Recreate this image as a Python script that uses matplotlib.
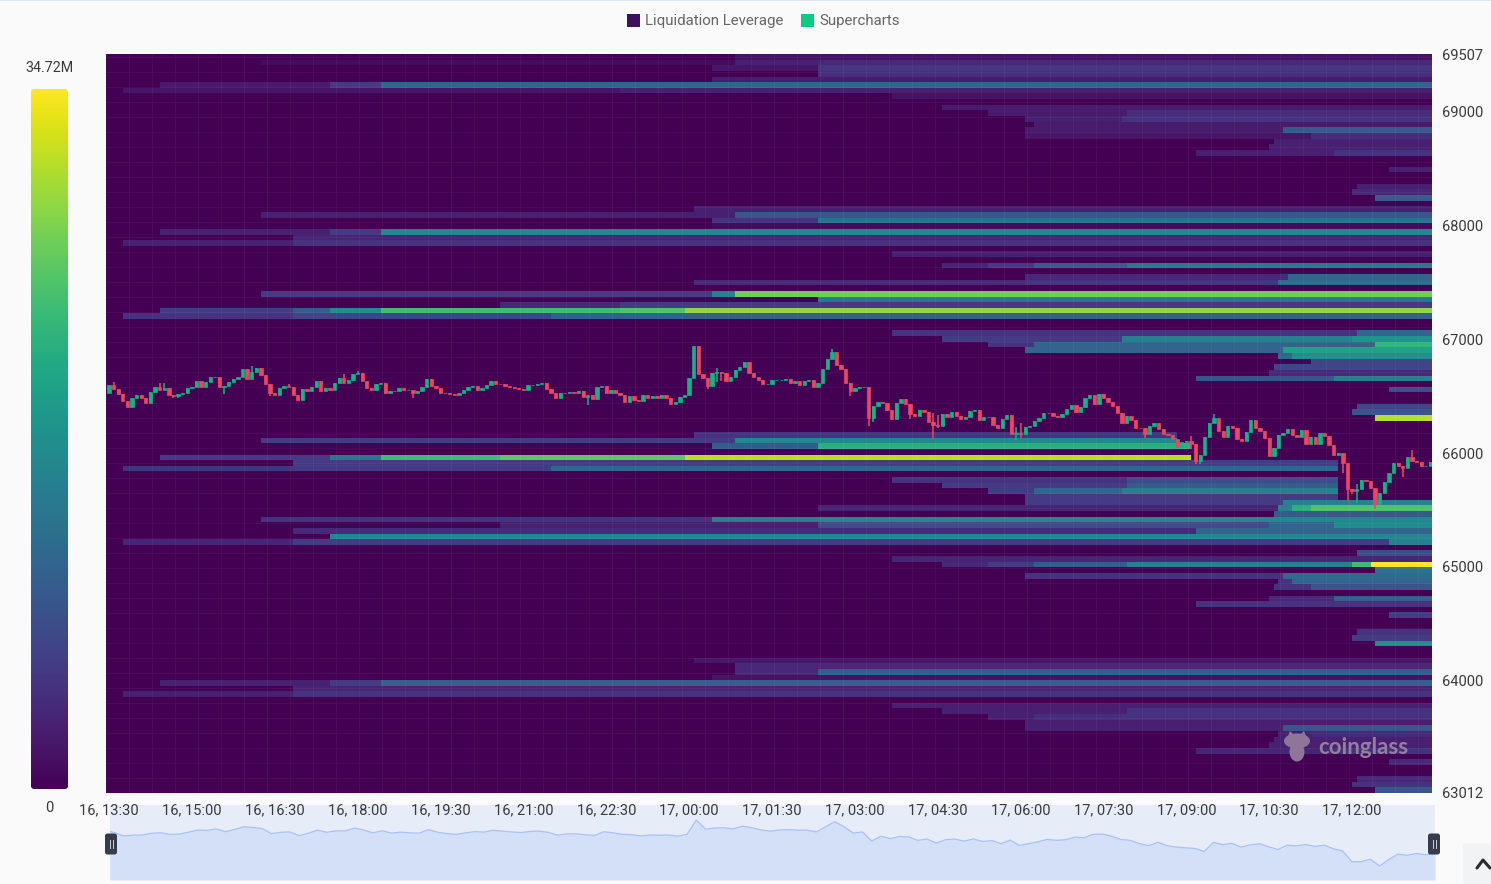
#!/usr/bin/env python3
import numpy as np
import matplotlib
matplotlib.use("Agg")
import matplotlib.pyplot as plt
from matplotlib.patches import FancyBboxPatch, Rectangle, Ellipse, Polygon

plt.rcParams["font.family"] = ["Roboto", "DejaVu Sans"]

MAX_LEVERAGE = 34.72
ROW_STEP = 49.58
PRICE_LOW, PRICE_HIGH = 63012, 69507
N_CANDLES = 288

# 5 minute closes, 16th 13:30 onwards
closes_a = [
    66595, 66560, 66516, 66457, 66407, 66481, 66507, 66487, 66443, 66539,
    66580, 66557, 66575, 66507, 66501, 66516, 66530, 66572, 66580, 66636,
    66583, 66627, 66668, 66671, 66583, 66589, 66621, 66654, 66671, 66736,
    66648, 66715, 66745, 66683, 66604, 66530, 66510, 66569, 66589, 66580,
    66510, 66466, 66560, 66545, 66580, 66633, 66545, 66569, 66551, 66613,
    66657, 66613, 66642, 66698, 66701, 66633, 66575, 66554, 66610, 66616,
    66530, 66545, 66545, 66575, 66551, 66551, 66530, 66545, 66580, 66651,
    66589, 66569, 66525, 66530, 66516, 66507, 66530, 66554, 66583, 66589,
    66557, 66575, 66598, 66633, 66610, 66604, 66592, 66580, 66569, 66560,
    66557, 66595, 66598, 66604, 66618, 66566, 66530,
]
closes_b = [
    66481, 66525, 66525, 66539, 66525, 66545, 66492, 66507, 66478, 66580,
    66586, 66525, 66551, 66528, 66507, 66448, 66498, 66463, 66457, 66510,
    66486, 66504, 66481, 66510, 66486, 66434,
]
closes_c = [
    66451, 66492, 66510, 66663, 66941, 66692, 66663, 66589, 66701, 66715,
    66706, 66633, 66671, 66727, 66756, 66803, 66706, 66668, 66642, 66604,
    66604, 66639, 66639, 66645, 66651, 66618, 66633, 66595, 66633, 66645,
    66583, 66618, 66736, 66824, 66891, 66771, 66736, 66613, 66545, 66569,
    66580, 66580, 66305, 66413, 66451, 66437, 66375, 66296, 66443, 66472,
    66428, 66340, 66325, 66378, 66363, 66275, 66243, 66237, 66346, 66317,
]
closes_d = [
    66363, 66325, 66302, 66319, 66369, 66375, 66290, 66316, 66319, 66246,
    66223, 66296, 66334, 66164, 66173, 66164, 66228, 66237, 66281, 66305,
    66354, 66354, 66325, 66316, 66346, 66384, 66422, 66363, 66404, 66481,
    66510, 66434, 66516, 66481, 66451, 66413, 66349, 66267, 66325, 66287,
    66223, 66217, 66164, 66237, 66267, 66208, 66164, 66158, 66120, 66052,
    66099, 66105, 66082, 65929, 65982, 66140, 66267, 66310, 66193, 66143,
    66237, 66223, 66120, 66105, 66187, 66287,
]
closes_e = [
    66223, 66193, 66129, 65973, 66047, 66155, 66179, 66208, 66158, 66141,
    66199, 66076, 66141, 66082, 66179, 66149, 66070, 65982, 66003, 65915,
    65680, 65666, 65680, 65762, 65754, 65695, 65548, 65645, 65748, 65821,
    65909, 65886, 65871, 65968, 65929, 65924, 65886, 65886, 65924,
]
first_open = 66525

# wicks that stick out past the body, by candle index
wick_highs = {
    1: 66624, 11: 66618, 12: 66618, 31: 66765, 39: 66610, 51: 66692, 54: 66721,
    132: 66750, 157: 66912, 179: 66355, 180: 66331, 197: 66228, 198: 66267,
    235: 66149, 240: 66340, 271: 65725, 283: 66023,
}
wick_lows = {
    14: 66481, 15: 66481, 25: 66522, 35: 66501, 60: 66516, 66: 66487, 104: 66422,
    130: 66560, 132: 66627, 133: 66633, 161: 66501, 165: 66237, 166: 66275,
    174: 66296, 179: 66120, 180: 66217, 197: 66111, 198: 66135, 225: 66129,
    235: 66038, 236: 65900, 237: 65900, 268: 65827, 269: 65578, 270: 65636,
    271: 65563, 275: 65504, 281: 65792,
}

# liquidation levels: (price, [(first candle, leverage in M), ...])
levels_top = [
    (69476, [(136, 1.5)]),
    (69415, [(33, 1), (136, 3), (154, 4)]),
    (69371, [(131, 2), (154, 5.5)]),
    (69327, [(154, 4.5)]),
    (69279, [(131, 2.5)]),
    (69226, [(11, 2.5), (48, 6), (59, 11)]),
    (69174, [(3, 2), (111, 3)]),
    (69125, [(170, 1.5)]),
    (69028, [(181, 2.5)]),
    (68980, [(191, 2.5), (221, 4.5)]),
    (68927, [(199, 3), (220, 5)]),
    (68879, [(201, 2.5)]),
    (68835, [(199, 2.5), (255, 9.5)]),
    (68786, [(199, 2), (261, 4.5)]),
    (68734, [(253, 3)]),
    (68686, [(252, 3)]),
    (68633, [(236, 3), (266, 5)]),
    (68488, [(278, 3)]),
    (68334, [(271, 3)]),
    (68290, [(270, 4)]),
    (68242, [(275, 10)]),
]
levels_upper = [
    (68136, [(127, 3)]),
    (68087, [(33, 3), (136, 9)]),
    (68039, [(131, 5), (154, 13)]),
    (67990, [(131, 1)]),
    (67938, [(11, 3), (48, 6), (59, 16)]),
    (67890, [(40, 3.5)]),
    (67841, [(3, 3), (40, 5)]),
    (67744, [(170, 3)]),
    (67648, [(181, 3.5), (191, 6), (201, 10), (221, 14)]),
    (67543, [(199, 4), (256, 11)]),
    (67494, [(127, 4), (199, 5), (254, 12)]),
    (67397, [(33, 6), (131, 15), (136, 27)]),
    (67349, [(154, 14)]),
    (67296, [(85, 4), (111, 6)]),
    (67248, [(11, 6), (40, 10), (48, 17), (59, 24), (111, 25), (125, 29)]),
    (67200, [(3, 5), (40, 7), (96, 10.5)]),
    (67050, [(170, 5), (271, 11)]),
    (67002, [(181, 6), (220, 15), (270, 18)]),
    (66954, [(191, 5), (201, 11), (275, 23)]),
    (66901, [(199, 11), (255, 20)]),
    (66848, [(254, 11), (257, 17)]),
    (66800, [(261, 7)]),
    (66747, [(253, 7)]),
    (66699, [(252, 4)]),
    (66655, [(236, 9), (266, 15)]),
    (66554, [(278, 8)]),
    (66404, [(271, 7)]),
    (66355, [(270, 9)]),
    (66307, [(275, 31)]),
]
levels_mid = [
    (66154, [(127, 5), (232, 0)]),
    (66110, [(33, 6), (136, 16), (232, 0)]),
    (66057, [(131, 10), (154, 22), (235, 0)]),
    (65960, [(11, 6), (48, 14), (59, 24), (85, 26), (125, 31), (235, 0)]),
    (65912, [(40, 6), (267, 0)]),
    (65864, [(3, 5), (40, 6), (96, 11), (267, 0)]),
    (65763, [(170, 5), (221, 8), (267, 0)]),
    (65715, [(181, 6), (221, 10), (267, 0)]),
    (65666, [(191, 6), (201, 11), (220, 15), (267, 0)]),
    (65613, [(199, 6), (267, 0)]),
    (65565, [(199, 6), (255, 15)]),
    (65517, [(154, 3.5), (254, 15), (257, 22), (261, 25)]),
    (65464, [(253, 10)]),
    (65416, [(33, 5), (131, 15), (154, 16)]),
    (65363, [(85, 3), (154, 8), (252, 11), (266, 17)]),
    (65315, [(40, 4), (236, 11)]),
    (65266, [(48, 16)]),
    (65218, [(3, 3.5), (40, 6), (278, 15)]),
    (65121, [(271, 8)]),
    (65069, [(170, 3.5)]),
    (65020, [(181, 4), (191, 6), (201, 10), (221, 15), (270, 24), (274, MAX_LEVERAGE)]),
    (64972, [(275, 13)]),
    (64919, [(199, 5), (255, 12)]),
    (64870, [(254, 5), (257, 11)]),
    (64822, [(253, 5), (261, 9)]),
]
levels_low = [
    (64717, [(252, 4), (266, 10)]),
    (64669, [(236, 5)]),
    (64570, [(278, 6)]),
    (64422, [(271, 5)]),
    (64374, [(270, 6)]),
    (64326, [(275, 17)]),
    (64177, [(127, 2)]),
    (64128, [(136, 4)]),
    (64080, [(136, 4), (154, 10)]),
    (64032, [(131, 1.5)]),
    (63979, [(11, 3), (48, 6), (59, 10.5)]),
    (63930, [(40, 3.5)]),
    (63886, [(3, 3), (40, 5)]),
    (63785, [(170, 3)]),
    (63741, [(181, 3), (221, 5)]),
    (63689, [(191, 3), (201, 4.5), (220, 5)]),
    (63636, [(199, 3)]),
    (63588, [(199, 3), (255, 9)]),
    (63535, [(254, 3), (261, 4)]),
    (63491, [(253, 3)]),
    (63447, [(252, 3)]),
    (63394, [(236, 3.5), (266, 5)]),
    (63289, [(278, 4)]),
    (63148, [(271, 4)]),
    (63095, [(270, 5)]),
    (63038, [(275, 9)]),
]

x_labels = ["16, 13:30", "16, 15:00", "16, 16:30", "16, 18:00", "16, 19:30",
            "16, 21:00", "16, 22:30", "17, 00:00", "17, 01:30", "17, 03:00",
            "17, 04:30", "17, 06:00", "17, 07:30", "17, 09:00", "17, 10:30",
            "17, 12:00"]
y_ticks = [69507, 69000, 68000, 67000, 66000, 65000, 64000, 63012]
GREEN = "#0fb583"
RED = "#ee4560"
TEXT = "#3a3a3a"
X_LEFT, X_RIGHT = -0.65, 287.35


def px_rect(left, top, right, bottom):
    # figure rect from pixel edges, y counted from the top
    return [left / 1491, 1 - bottom / 884, (right - left) / 1491, (bottom - top) / 884]


def build_grid():
    n_rows = int(round((PRICE_HIGH - PRICE_LOW) / ROW_STEP))
    grid = np.zeros((n_rows, N_CANDLES))
    for price, steps in levels_top + levels_upper + levels_mid + levels_low:
        row = min(int((price - PRICE_LOW) / ROW_STEP), n_rows - 1)
        for i, (start, value) in enumerate(steps):
            end = steps[i + 1][0] if i + 1 < len(steps) else N_CANDLES
            grid[row, start:end] = value
    return grid


def draw_candles(ax, closes):
    opens = np.concatenate([[first_open], closes[:-1]])
    x = np.arange(len(closes))
    up = closes >= opens
    colors = np.where(up, GREEN, RED)
    highs = np.array([max(opens[i], closes[i], wick_highs.get(i, 0)) for i in x])
    lows = np.array([min(opens[i], closes[i], wick_lows.get(i, 1e9)) for i in x])
    ax.vlines(x, lows, highs, colors=colors, linewidth=1.1, zorder=3)
    ax.bar(x, closes - opens, bottom=opens, width=0.72, color=colors,
           edgecolor=colors, linewidth=0.5, zorder=4)


def draw_logo(ov):
    logo = dict(color="#8f7598", linewidth=0)
    ov.add_patch(Ellipse((1297, 741), 26, 15, **logo))
    ov.add_patch(Ellipse((1297, 752), 15, 19, **logo))
    ov.add_patch(Polygon([[1288, 736], [1290, 731], [1294, 735]], **logo))
    ov.add_patch(Polygon([[1300, 735], [1304, 731], [1306, 736]], **logo))
    ov.text(1318, 747, "coinglass", fontsize=16, fontweight="bold", family="Lato",
            color="#957f9f", va="center", ha="left")


def main():
    closes = np.array(closes_a + closes_b + closes_c + closes_d + closes_e, dtype=float)
    grid = build_grid()

    fig = plt.figure(figsize=(14.91, 8.84), dpi=100, facecolor="#fafafa")

    # heatmap and candles
    ax = fig.add_axes(px_rect(106, 54, 1432, 793), zorder=5)
    col_edges = np.arange(N_CANDLES + 1, dtype=float)
    col_edges[0] = X_LEFT
    col_edges[-1] = X_RIGHT
    row_edges = PRICE_LOW + np.arange(grid.shape[0] + 1) * ROW_STEP
    ax.pcolormesh(col_edges, row_edges, grid, cmap="viridis", vmin=0, vmax=MAX_LEVERAGE,
                  antialiased=False, zorder=1)
    ax.set_xlim(X_LEFT, X_RIGHT)
    ax.set_ylim(PRICE_LOW, PRICE_HIGH)
    ax.set_facecolor("#440154")
    draw_candles(ax, closes)

    ax.set_xticks(np.arange(len(x_labels)) * 18)
    ax.set_xticklabels(x_labels, fontsize=10.5, color=TEXT)
    ax.yaxis.tick_right()
    ax.set_yticks(y_ticks)
    ax.set_yticklabels([str(t) for t in y_ticks], fontsize=10.5, color=TEXT)
    ax.tick_params(axis="both", length=0)
    ax.tick_params(axis="x", pad=7.5)
    ax.tick_params(axis="y", pad=7)
    ax.set_xticks(np.arange(X_LEFT, 288, 5), minor=True)
    ax.set_yticks(np.arange(PRICE_LOW, PRICE_HIGH, 132), minor=True)
    ax.tick_params(which="minor", length=0)
    ax.set_axisbelow("line")
    ax.grid(which="minor", color="white", alpha=0.04, linewidth=0.8)
    for spine in ax.spines.values():
        spine.set_visible(False)

    # colour scale
    cax = fig.add_axes(px_rect(31, 89, 68, 789))
    gradient = np.linspace(1, 0, 256).reshape(-1, 1)
    img = cax.imshow(gradient, cmap="viridis", aspect="auto", extent=(0, 37, 0, 700))
    clip = FancyBboxPatch((3, 3), 31, 694, boxstyle="round,pad=3", transform=cax.transData,
                          facecolor="none", edgecolor="none")
    cax.add_patch(clip)
    img.set_clip_path(clip)
    cax.axis("off")

    # range slider under the chart, thinned out to every second close
    nav = fig.add_axes(px_rect(110, 805, 1435, 880), zorder=1)
    nav_idx = np.r_[0, np.arange(1, len(closes), 2)]
    nav.fill_between(nav_idx, closes[nav_idx], 65124, color="#d4dff8", linewidth=0)
    nav.plot(nav_idx, closes[nav_idx], color="#a9c1f5", linewidth=0.9)
    nav.set_xlim(0, len(closes) - 1)
    nav.set_ylim(65124, 67396)
    nav.set_facecolor("#e7ecf9")
    nav.set_xticks([])
    nav.set_yticks([])
    for spine in nav.spines.values():
        spine.set_visible(False)

    # everything else is placed in pixel coordinates
    ov = fig.add_axes([0, 0, 1, 1], zorder=10)
    ov.set_xlim(0, 1491)
    ov.set_ylim(884, 0)
    ov.axis("off")
    ov.patch.set_alpha(0)

    ov.add_patch(Rectangle((0, 0), 1491, 1.2, color="#e3e6f3", linewidth=0))
    ov.add_patch(Rectangle((626.5, 14), 13, 13, color="#3f1060", linewidth=0))
    ov.text(645, 20.5, "Liquidation Leverage", fontsize=10.8, color="#666666", va="center")
    ov.add_patch(Rectangle((800.5, 14), 13, 13, color="#0ecb81", linewidth=0))
    ov.text(819, 20.5, "Supercharts", fontsize=10.8, color="#666666", va="center")

    ov.text(49.5, 68.5, "34.72M", fontsize=10.3, color=TEXT, ha="center", va="center")
    ov.text(49, 808.5, "0", fontsize=10.5, color=TEXT, ha="center", va="center")

    for cx in (111, 1434):
        ov.add_patch(FancyBboxPatch((cx - 3.5, 836), 7, 16, boxstyle="round,pad=2.5",
                                    facecolor="#363b4e", edgecolor="none"))
        ov.plot([cx - 1.5, cx - 1.5], [840, 848], color="#c9ccd6", linewidth=0.7)
        ov.plot([cx + 1.5, cx + 1.5], [840, 848], color="#c9ccd6", linewidth=0.7)

    ov.add_patch(FancyBboxPatch((1467, 847), 30, 40, boxstyle="round,pad=4",
                                facecolor="#f2f3f5", edgecolor="none"))
    ov.plot([1477, 1483, 1490], [868, 860, 868], color="#2b2b2b", linewidth=2.2,
            solid_capstyle="round", solid_joinstyle="round")

    draw_logo(ov)

    fig.savefig("out.png", dpi=100, facecolor=fig.get_facecolor())


if __name__ == "__main__":
    main()
